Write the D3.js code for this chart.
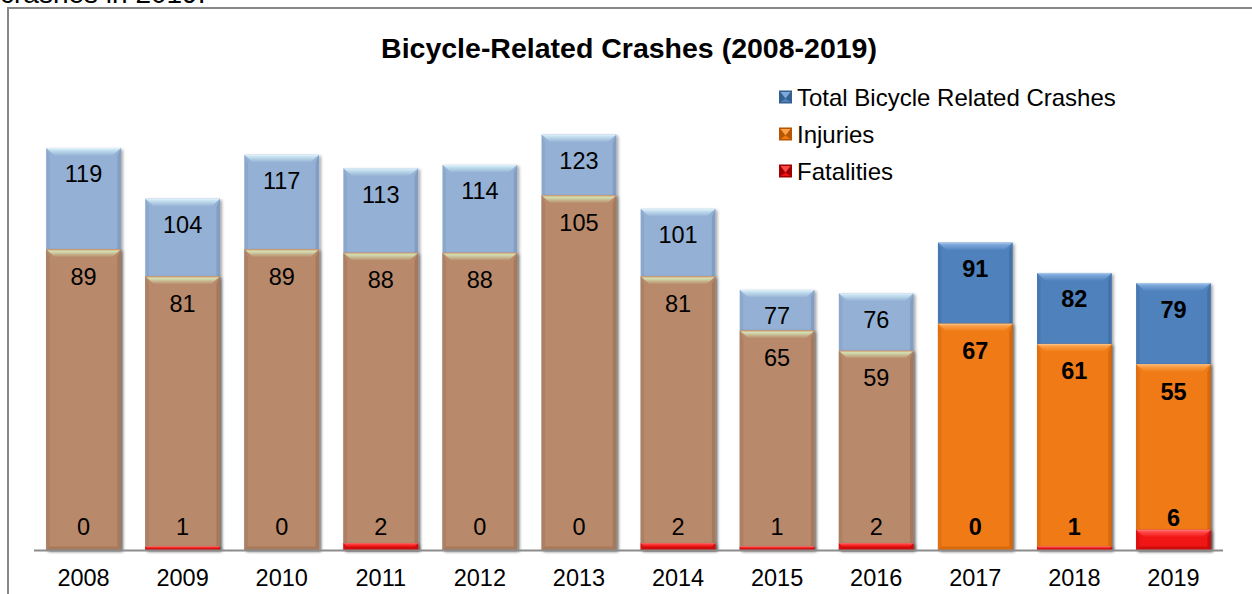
<!DOCTYPE html>
<html>
<head>
<meta charset="utf-8">
<script src="https://cdn.jsdelivr.net/npm/d3@7"></script>
<style>
  html, body { margin: 0; padding: 0; background: #fff; }
  svg { display: block; font-family: "Liberation Sans", Arial, sans-serif; }
</style>
</head>
<body>
<svg id="chart" width="1252" height="594"></svg>
<script>
// ---- Data ----
const years = ["2008","2009","2010","2011","2012","2013","2014","2015","2016","2017","2018","2019"];
const totals = [119,104,117,113,114,123,101,77,76,91,82,79];
const injuries = [89,81,89,88,88,105,81,65,59,67,61,55];
const fatalities = [0,1,0,2,0,0,2,1,2,0,1,6];
const highlightYears = ["2017","2018","2019"];
const seriesNames = ["Total Bicycle Related Crashes","Injuries","Fatalities"];
const titleText = "Bicycle-Related Crashes (2008-2019)";

// ---- Palettes ----
const palettes = {
  totalMuted:  { base: "#94B0D4", top: ["#E6F5FC", "#C6E2F0", "#94B0D4"], dark: "#6F8AAE" },
  injMuted:    { base: "#B8896A", top: ["#D49A6E", "#D3E0B2", "#B8896A"], dark: "#8E6548" },
  fatMuted:    { base: "#EE1414", top: ["#FF8080", "#FF4040", "#EE1414"], dark: "#A00000" },
  totalBright: { base: "#4F81BD", top: ["#AECCEE", "#7EA8DA", "#4F81BD"], dark: "#34608F" },
  injBright:   { base: "#F07A12", top: ["#FFCB8E", "#FAA24C", "#F07A12"], dark: "#B85500" },
  fatBright:   { base: "#F01212", top: ["#FF8A8A", "#FF4A4A", "#F01212"], dark: "#A00000" }
};

const svg = d3.select("#chart");
const W = 1252, H = 594;
const defs = svg.append("defs");

// shadow
const f = defs.append("filter").attr("id","shadow").attr("x","-20%").attr("y","-20%").attr("width","140%").attr("height","140%");
f.append("feDropShadow").attr("dx",2).attr("dy",1.5).attr("stdDeviation",1.8).attr("flood-color","#000").attr("flood-opacity",0.35);

Object.entries(palettes).forEach(([k,p]) => {
  const g = defs.append("linearGradient").attr("id","top-"+k).attr("x1",0).attr("y1",0).attr("x2",0).attr("y2",1);
  g.append("stop").attr("offset","0").attr("stop-color",p.top[0]);
  g.append("stop").attr("offset","0.25").attr("stop-color",p.top[1]);
  g.append("stop").attr("offset","1").attr("stop-color",p.top[2]);
});

// ---- Outer frame and surrounding text (cut off at top, as in the source page) ----
svg.append("text").attr("x",0).attr("y",3).attr("font-size",28).attr("fill","#000").text("crashes in 2019.");
svg.append("path").attr("d",`M8,${H} L8,8 L${W},8`).attr("fill","none").attr("stroke","#878787").attr("stroke-width",2);

// ---- Scales ----
const x = d3.scaleBand().domain(years).range([34, 1223]).paddingInner(0.246).paddingOuter(0.123);
const y = d3.scaleLinear().domain([0, 140]).range([550, 77]);

// ---- Title ----
svg.append("text").attr("x",629).attr("y",58).attr("text-anchor","middle")
  .attr("font-size",28.5).attr("font-weight","bold").attr("fill","#000").text(titleText);

// ---- Bars ----
function drawBar(g, x0, w, yTop, yBase, key) {
  const p = palettes[key];
  const h = yBase - yTop;
  if (h <= 0) return;
  const x1 = x0 + w;
  const b = Math.min(8, h / 2);
  const s = Math.min(3.5, h / 2);
  g.append("rect").attr("x",x0).attr("y",yTop).attr("width",w).attr("height",h)
    .attr("fill",p.base).attr("filter","url(#shadow)");
  g.append("polygon").attr("points",[[x0,yTop],[x0+s,yTop+b],[x0+s,yBase-s],[x0,yBase]].join(" "))
    .attr("fill",p.dark).attr("opacity",0.25);
  g.append("polygon").attr("points",[[x1,yTop],[x1-s,yTop+b],[x1-s,yBase-s],[x1,yBase]].join(" "))
    .attr("fill",p.dark).attr("opacity",0.45);
  g.append("polygon").attr("points",[[x0,yBase],[x0+s,yBase-s],[x1-s,yBase-s],[x1,yBase]].join(" "))
    .attr("fill",p.dark).attr("opacity",0.4);
  g.append("polygon").attr("points",[[x0,yTop],[x1,yTop],[x1-b*1.1,yTop+b],[x0+b*1.1,yTop+b]].join(" "))
    .attr("fill","url(#top-"+key+")");
}

const barsG = svg.append("g");
years.forEach((yr, i) => {
  const hl = highlightYears.includes(yr);
  const x0 = x(yr), w = x.bandwidth();
  const g = barsG.append("g");
  drawBar(g, x0, w, y(totals[i]), y(0), hl ? "totalBright" : "totalMuted");
  drawBar(g, x0, w, y(injuries[i]), y(0), hl ? "injBright" : "injMuted");
  drawBar(g, x0, w, y(fatalities[i]), y(0), hl ? "fatBright" : "fatMuted");
});

// axis baseline
svg.append("line").attr("x1",34).attr("x2",1223).attr("y1",y(0)+0.5).attr("y2",y(0)+0.5)
  .attr("stroke","#8C8C8C").attr("stroke-width",2);

// ---- Data labels ----
const labG = svg.append("g").attr("text-anchor","middle").attr("font-size",23.5).attr("fill","#000");
years.forEach((yr, i) => {
  const hl = highlightYears.includes(yr);
  const cx = x(yr) + x.bandwidth() / 2;
  const fw = hl ? "bold" : "normal";
  labG.append("text").attr("x",cx).attr("y",y(totals[i]) + 34.5).attr("font-weight",fw).text(totals[i]);
  labG.append("text").attr("x",cx).attr("y",y(injuries[i]) + 35.5).attr("font-weight",fw).text(injuries[i]);
  labG.append("text").attr("x",cx).attr("y",Math.min(y(fatalities[i]) - 4, y(0) - 15)).attr("font-weight",fw).text(fatalities[i]);
});

// ---- X axis labels ----
const xAxis = d3.axisBottom(x).tickSize(0).tickPadding(19);
const ax = svg.append("g").attr("transform",`translate(0,${y(0)})`).call(xAxis);
ax.select(".domain").remove();
ax.selectAll("text").attr("font-size",23.5).attr("fill","#000").attr("font-family","Liberation Sans, Arial, sans-serif");

// ---- Legend ----
const legKeys = ["totalBright","injBright","fatBright"];
const leg = svg.append("g");
seriesNames.forEach((name, i) => {
  const cy = 97 + i * 37;
  const p = palettes[legKeys[i]];
  const lx = 779, sz = 13;
  leg.append("rect").attr("x",lx).attr("y",cy-sz/2).attr("width",sz).attr("height",sz).attr("fill",p.dark);
  leg.append("polygon").attr("points",[[lx+1.5,cy-sz/2+1.5],[lx+sz-1.5,cy-sz/2+1.5],[lx+sz/2,cy+1.5]].join(" ")).attr("fill",p.top[1]);
  leg.append("polygon").attr("points",[[lx+1.5,cy+sz/2-1.5],[lx+sz-1.5,cy+sz/2-1.5],[lx+sz/2,cy+1.5]].join(" ")).attr("fill",p.base);
  leg.append("text").attr("x",797).attr("y",cy+8.5).attr("font-size",24).attr("fill","#000").text(name);
});
</script>
</body>
</html>
